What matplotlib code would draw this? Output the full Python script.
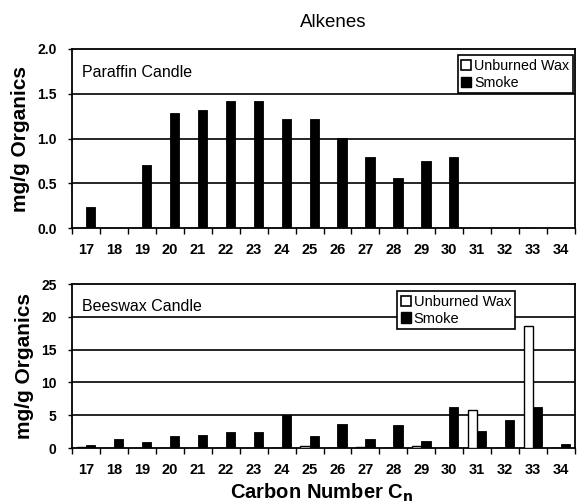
import matplotlib
matplotlib.use("Agg")
import matplotlib.pyplot as plt
from matplotlib.patches import Patch
from matplotlib.ticker import FixedLocator
import numpy as np

plt.rcParams['font.family'] = ['Liberation Sans', 'DejaVu Sans']

carbon = list(range(17, 35))

paraffin_wax = [0] * 18
paraffin_smoke = [0.23, 0.0, 0.70, 1.29, 1.32, 1.42, 1.42, 1.22, 1.22, 1.01,
                  0.79, 0.56, 0.75, 0.79, 0, 0, 0, 0]

beeswax_wax = [0.2, 0, 0, 0, 0, 0, 0, 0, 0.3, 0, 0.2, 0, 0.3, 0, 5.8, 0, 18.6, 0]
beeswax_smoke = [0.5, 1.3, 0.9, 1.8, 2.0, 2.4, 2.5, 5.1, 1.9, 3.7,
                 1.4, 3.55, 1.0, 6.2, 2.6, 4.3, 6.3, 0.55]

panels = [
    dict(wax=paraffin_wax, smoke=paraffin_smoke, ymax=2.0, step=0.5,
         fmt="{:.1f}", name="Paraffin Candle",
         rect=[0.1246, 0.5467, 0.8702, 0.3559],
         leg_anchor=(0.996, 0.966), leg_loc="upper right", leg_size=10.3),
    dict(wax=beeswax_wax, smoke=beeswax_smoke, ymax=25, step=5,
         fmt="{:.0f}", name="Beeswax Candle",
         rect=[0.1246, 0.1093, 0.8702, 0.326],
         leg_anchor=(0.646, 0.957), leg_loc="upper left", leg_size=10.5),
]

fig = plt.figure(figsize=(5.78, 5.03), dpi=100)
x = np.arange(len(carbon))
w = 0.33

for p in panels:
    ax = fig.add_axes(p["rect"])
    ax.set_axisbelow(True)
    ax.bar(x - w, p["wax"], width=w, align="edge", color="white",
           edgecolor="black", linewidth=1.0, zorder=3)
    ax.bar(x, p["smoke"], width=w, align="edge", color="black",
           edgecolor="black", linewidth=0.6, zorder=3)

    ax.set_xlim(-0.5, len(carbon) - 0.5)
    ax.set_ylim(0, p["ymax"])
    yt = np.arange(0, p["ymax"] + p["step"] / 2, p["step"])
    ax.set_yticks(yt)
    ax.set_yticklabels([p["fmt"].format(v) for v in yt])
    for v in yt[1:-1]:
        ax.axhline(v, color="black", linewidth=1.2, zorder=1)

    ax.set_xticks(x)
    ax.set_xticklabels([str(c) for c in carbon])
    ax.xaxis.set_minor_locator(FixedLocator(np.arange(-0.5, len(carbon), 1.0)))
    ax.tick_params(axis="x", which="major", length=0, pad=11,
                   labelsize=10.5)
    ax.tick_params(axis="x", which="minor", length=4, width=1.0,
                   direction="out", color="black")
    ax.tick_params(axis="y", length=3, width=1.0, pad=8, labelsize=10)
    for lab in ax.get_xticklabels() + ax.get_yticklabels():
        lab.set_fontweight("bold")
    for s in ax.spines.values():
        s.set_linewidth(1.3)
        s.set_color("black")

    ax.set_ylabel("mg/g Organics", fontsize=15, fontweight="bold", labelpad=5)
    ax.text(0.02, 0.866, p["name"], transform=ax.transAxes, fontsize=11.5,
            va="center", ha="left")

    handles = [Patch(facecolor="white", edgecolor="black", linewidth=1.2,
                     label="Unburned Wax"),
               Patch(facecolor="black", edgecolor="black", label="Smoke")]
    leg = ax.legend(handles=handles, loc=p["leg_loc"],
                    bbox_to_anchor=p["leg_anchor"], borderaxespad=0,
                    fancybox=False, framealpha=1, edgecolor="black",
                    fontsize=p["leg_size"], handlelength=0.7,
                    handleheight=0.7, handletextpad=0.2,
                    labelspacing=0.2, borderpad=0.25)
    leg.get_frame().set_linewidth(1.2)
    p["ax"] = ax

fig.text(0.576, 0.955, "Alkenes", ha="center", va="center", fontsize=13.5)
fig.text(0.556, 0.021, r"Carbon Number C$_\mathbf{n}$", ha="center",
         va="center", fontsize=14.5, fontweight="bold")

fig.align_ylabels([p["ax"] for p in panels])
fig.savefig("out.png", dpi=100)
